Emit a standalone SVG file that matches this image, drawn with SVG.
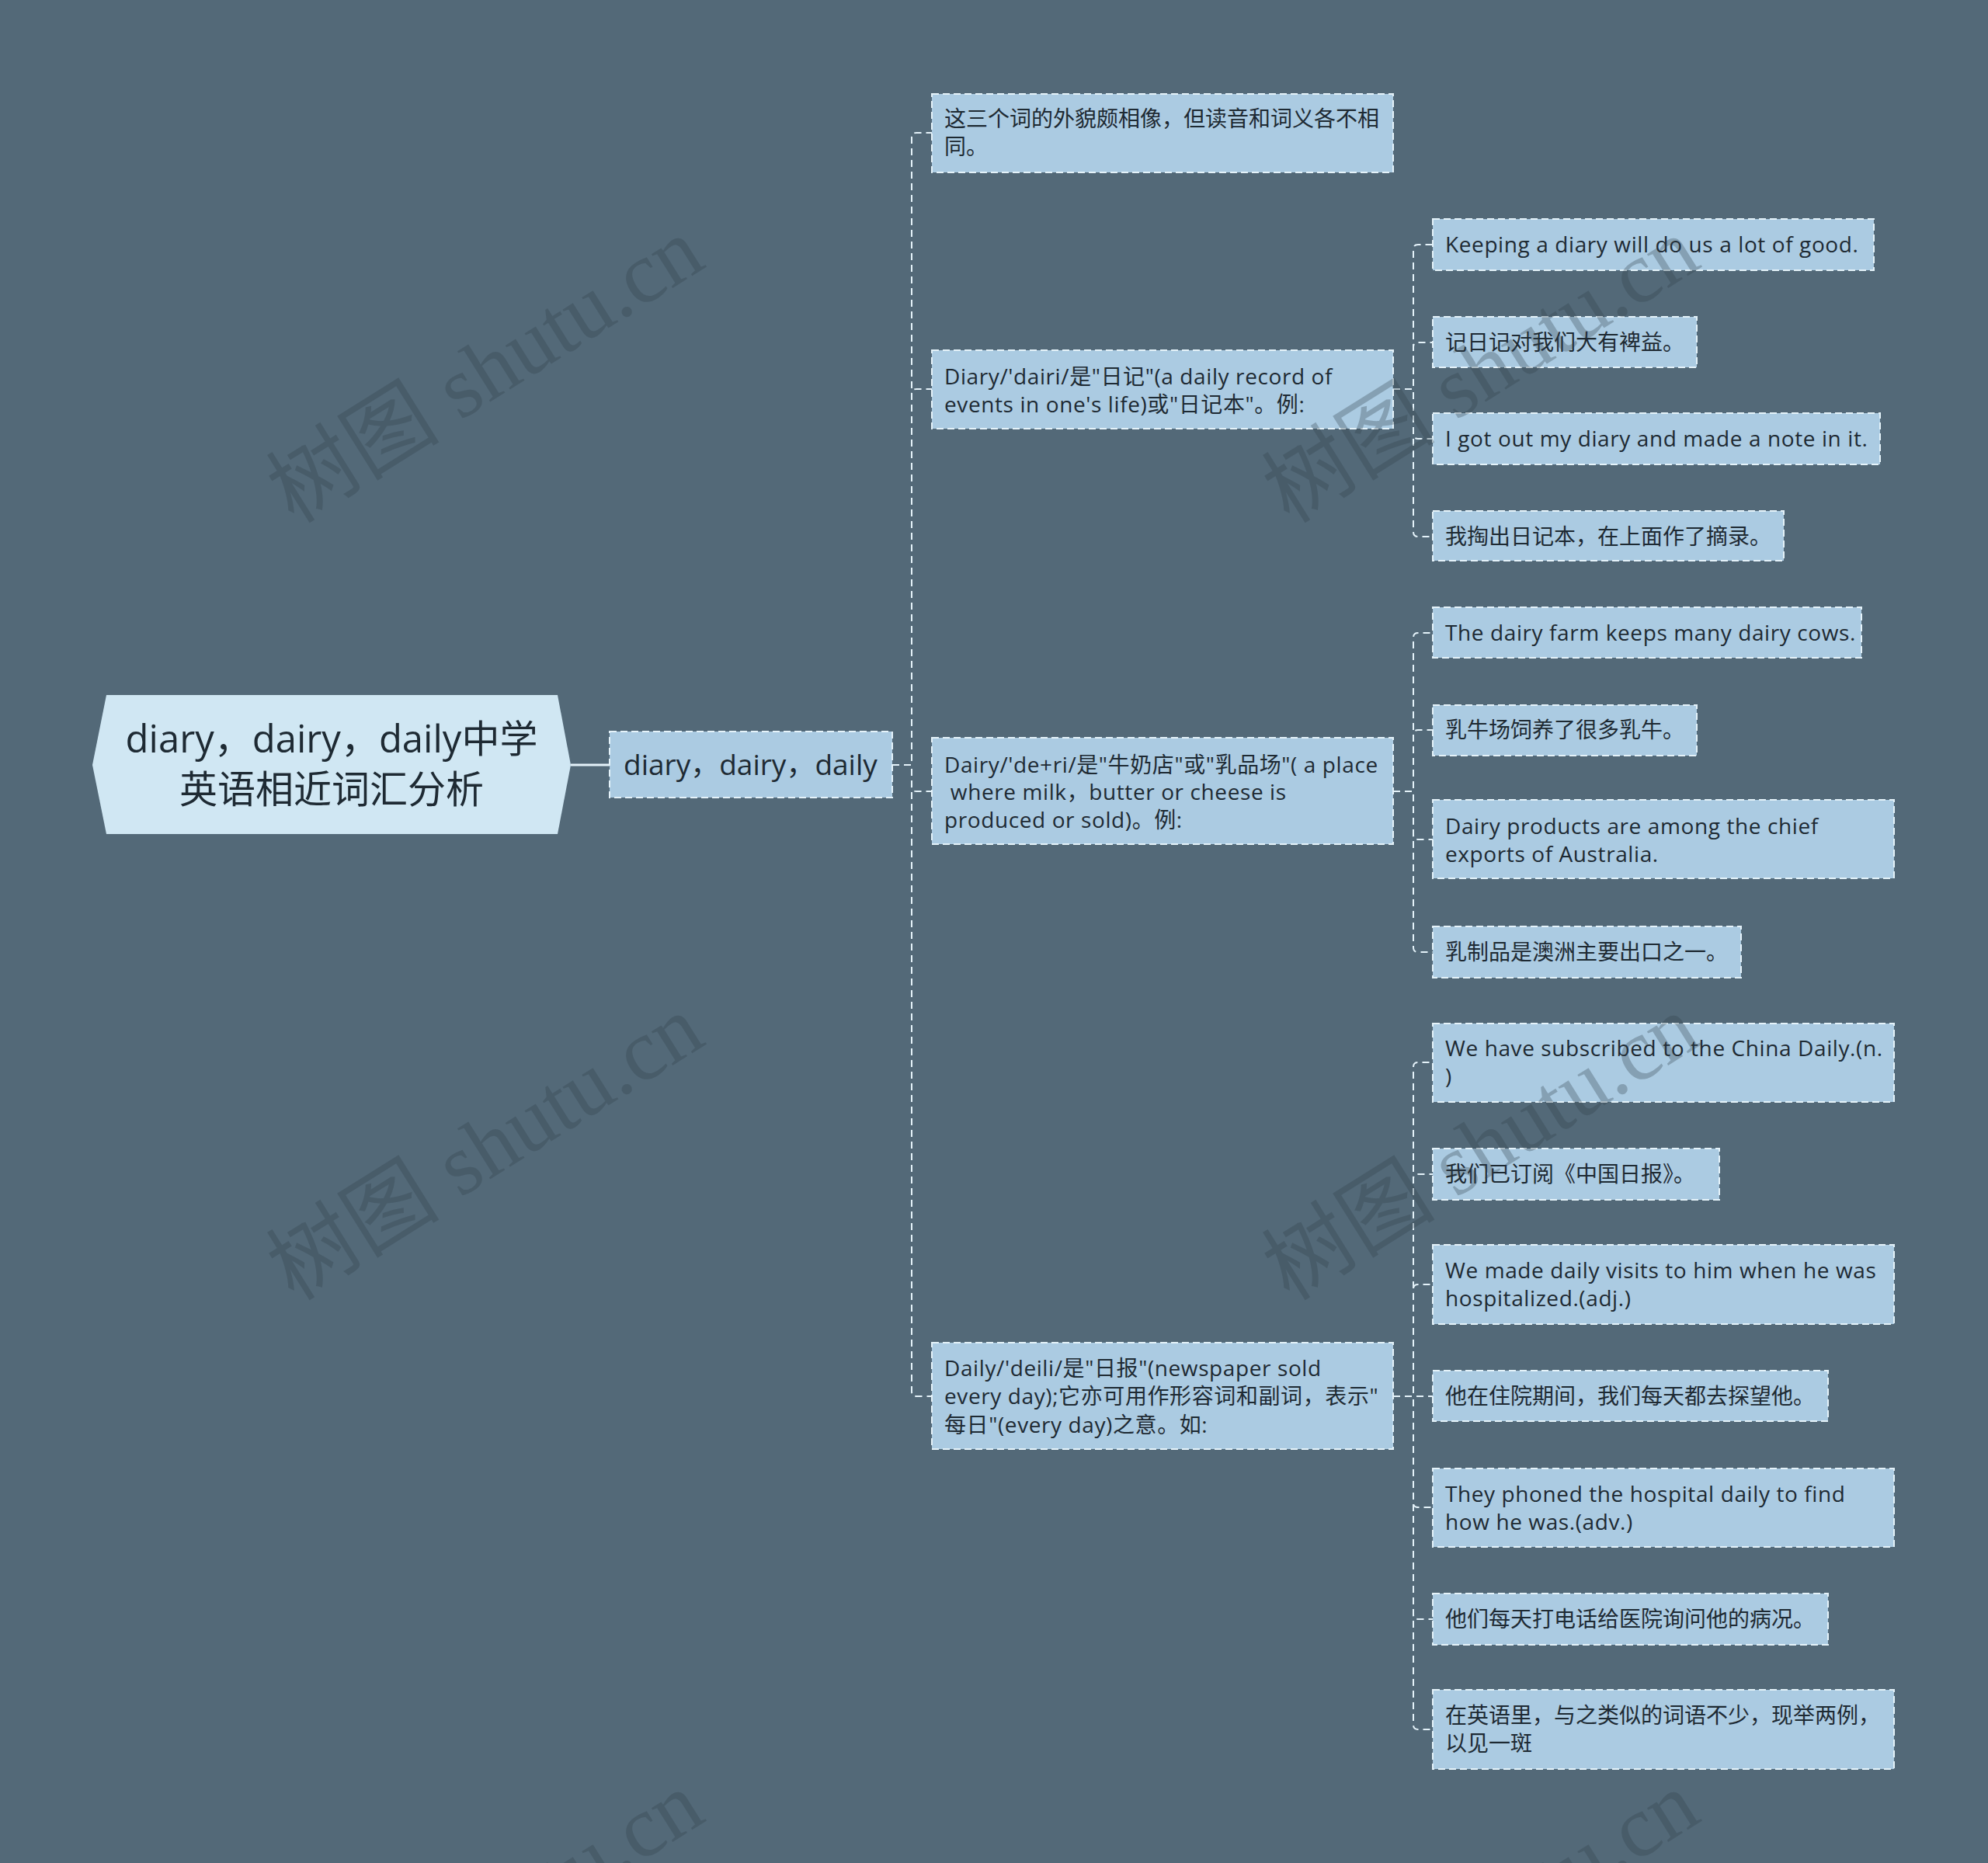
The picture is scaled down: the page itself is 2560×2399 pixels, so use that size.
<svg xmlns="http://www.w3.org/2000/svg" width="2560" height="2399" viewBox="0 0 2560 2399">
<defs>
<style>
.bg{fill:#536978}
.n{fill:#abcbe2;stroke:#e4f2f9;stroke-width:2;stroke-dasharray:9 5}
.root{fill:#d0e7f3}
.t{font-family:"Open Sans","Noto Sans CJK SC",sans-serif;fill:#1e2a33}
.t2{font-size:28px}
.t3{font-size:28px}
.en{letter-spacing:0.6px}
.c{fill:none;stroke:#e4f2f9;stroke-width:2;stroke-dasharray:9 6}
.wm{font-family:"Liberation Serif","Noto Sans CJK SC",serif;font-size:112px;fill:#2f3f4a;opacity:0.3}
</style>
</defs>
<rect class="bg" x="0" y="0" width="2560" height="2399"/>

<g id="connectors">
<line x1="735" y1="985" x2="785" y2="985" stroke="#e4f2f9" stroke-width="3"/>
<path class="c" d="M1149 985 H1174 V177 Q1174 171 1180 171 H1200"/>
<path class="c" d="M1149 985 H1174 V507 Q1174 501 1180 501 H1200"/>
<path class="c" d="M1149 985 H1174 V1013 Q1174 1019 1180 1019 H1200"/>
<path class="c" d="M1149 985 H1174 V1792 Q1174 1798 1180 1798 H1200"/>

<path class="c" d="M1794 501 H1820 V321 Q1820 315 1826 315 H1845"/>
<path class="c" d="M1794 501 H1820 V447 Q1820 441 1826 441 H1845"/>
<path class="c" d="M1794 501 H1820 V559 Q1820 565 1826 565 H1845"/>
<path class="c" d="M1794 501 H1820 V685 Q1820 691 1826 691 H1845"/>

<path class="c" d="M1794 1019 H1820 V821 Q1820 815 1826 815 H1845"/>
<path class="c" d="M1794 1019 H1820 V946 Q1820 940 1826 940 H1845"/>
<path class="c" d="M1794 1019 H1820 V1075 Q1820 1081 1826 1081 H1845"/>
<path class="c" d="M1794 1019 H1820 V1220 Q1820 1226 1826 1226 H1845"/>

<path class="c" d="M1794 1798 H1820 V1374 Q1820 1368 1826 1368 H1845"/>
<path class="c" d="M1794 1798 H1820 V1518 Q1820 1512 1826 1512 H1845"/>
<path class="c" d="M1794 1798 H1820 V1660 Q1820 1654 1826 1654 H1845"/>
<path class="c" d="M1794 1798 H1845"/>
<path class="c" d="M1794 1798 H1820 V1935 Q1820 1941 1826 1941 H1845"/>
<path class="c" d="M1794 1798 H1820 V2079 Q1820 2085 1826 2085 H1845"/>
<path class="c" d="M1794 1798 H1820 V2221 Q1820 2227 1826 2227 H1845"/>
</g>

<g id="root">
<polygon class="root" points="119,985 137,895 718,895 735,985 718,1074 137,1074"/>
<text class="t" font-size="49" text-anchor="middle" x="427" y="969">diary，dairy，daily中学</text>
<text class="t" font-size="49" text-anchor="middle" x="427" y="1034">英语相近词汇分析</text>
</g>

<g id="sub">
<rect class="n" x="785" y="942" width="364" height="85"/>
<text class="t" font-size="37" x="803" y="998">diary，dairy，daily</text>
</g>

<g id="n1">
<rect class="n" x="1200" y="121" width="594" height="101"/>
<text class="t t2" x="1216" y="163">这三个词的外貌颇相像，但读音和词义各不相</text>
<text class="t t2" x="1216" y="199">同。</text>
</g>
<g id="n2">
<rect class="n" x="1200" y="451" width="594" height="101"/>
<text class="t t2 en" x="1216" y="495">Diary/'dairi/是"日记"(a daily record of</text>
<text class="t t2 en" x="1216" y="531">events in one's life)或"日记本"。例:</text>
</g>
<g id="n3">
<rect class="n" x="1200" y="950" width="594" height="137"/>
<text class="t t2 en" x="1216" y="995">Dairy/'de+ri/是"牛奶店"或"乳品场"( a place</text>
<text class="t t2 en" x="1216" y="1030" xml:space="preserve"> where milk，butter or cheese is</text>
<text class="t t2 en" x="1216" y="1066">produced or sold)。例:</text>
</g>
<g id="n4">
<rect class="n" x="1200" y="1729" width="594" height="137"/>
<text class="t t2 en" x="1216" y="1772">Daily/'deili/是"日报"(newspaper sold</text>
<text class="t t2 en" x="1216" y="1808">every day);它亦可用作形容词和副词，表示"</text>
<text class="t t2 en" x="1216" y="1845">每日"(every day)之意。如:</text>
</g>

<g id="d1">
<rect class="n" x="1845" y="282" width="568" height="66"/>
<text class="t t3 en" x="1861" y="325">Keeping a diary will do us a lot of good.</text>
</g>
<g id="d2">
<rect class="n" x="1845" y="408" width="340" height="65"/>
<text class="t t3" x="1861" y="451">记日记对我们大有裨益。</text>
</g>
<g id="d3">
<rect class="n" x="1845" y="532" width="576" height="66"/>
<text class="t t3 en" x="1861" y="575">I got out my diary and made a note in it.</text>
</g>
<g id="d4">
<rect class="n" x="1845" y="658" width="452" height="64"/>
<text class="t t3" x="1861" y="701">我掏出日记本，在上面作了摘录。</text>
</g>

<g id="e1">
<rect class="n" x="1845" y="782" width="552" height="65"/>
<text class="t t3 en" x="1861" y="825">The dairy farm keeps many dairy cows.</text>
</g>
<g id="e2">
<rect class="n" x="1845" y="908" width="340" height="65"/>
<text class="t t3" x="1861" y="950">乳牛场饲养了很多乳牛。</text>
</g>
<g id="e3">
<rect class="n" x="1845" y="1030" width="594" height="101"/>
<text class="t t3 en" x="1861" y="1074">Dairy products are among the chief</text>
<text class="t t3 en" x="1861" y="1110">exports of Australia.</text>
</g>
<g id="e4">
<rect class="n" x="1845" y="1193" width="397" height="66"/>
<text class="t t3" x="1861" y="1236">乳制品是澳洲主要出口之一。</text>
</g>

<g id="f1">
<rect class="n" x="1845" y="1318" width="594" height="101"/>
<text class="t t3 en" x="1861" y="1360">We have subscribed to the China Daily.(n.</text>
<text class="t t3" x="1861" y="1396">)</text>
</g>
<g id="f2">
<rect class="n" x="1845" y="1479" width="369" height="66"/>
<text class="t t3" x="1861" y="1522">我们已订阅《中国日报》。</text>
</g>
<g id="f3">
<rect class="n" x="1845" y="1603" width="594" height="102"/>
<text class="t t3 en" x="1861" y="1646">We made daily visits to him when he was</text>
<text class="t t3 en" x="1861" y="1682">hospitalized.(adj.)</text>
</g>
<g id="f4">
<rect class="n" x="1845" y="1765" width="509" height="65"/>
<text class="t t3" x="1861" y="1808">他在住院期间，我们每天都去探望他。</text>
</g>
<g id="f5">
<rect class="n" x="1845" y="1891" width="594" height="101"/>
<text class="t t3 en" x="1861" y="1934">They phoned the hospital daily to find</text>
<text class="t t3 en" x="1861" y="1970">how he was.(adv.)</text>
</g>
<g id="f6">
<rect class="n" x="1845" y="2052" width="509" height="66"/>
<text class="t t3" x="1861" y="2095">他们每天打电话给医院询问他的病况。</text>
</g>
<g id="f7">
<rect class="n" x="1845" y="2176" width="594" height="102"/>
<text class="t t3" x="1861" y="2219">在英语里，与之类似的词语不少，现举两例，</text>
<text class="t t3" x="1861" y="2255">以见一斑</text>
</g>

<g id="watermarks">
<text class="wm" text-anchor="middle" transform="translate(645,509) rotate(-32)">树图 shutu.cn</text>
<text class="wm" text-anchor="middle" transform="translate(1927,509) rotate(-32)">树图 shutu.cn</text>
<text class="wm" text-anchor="middle" transform="translate(645,1510) rotate(-32)">树图 shutu.cn</text>
<text class="wm" text-anchor="middle" transform="translate(1927,1510) rotate(-32)">树图 shutu.cn</text>
<text class="wm" text-anchor="middle" transform="translate(645,2510) rotate(-32)">树图 shutu.cn</text>
<text class="wm" text-anchor="middle" transform="translate(1927,2510) rotate(-32)">树图 shutu.cn</text>
</g>
</svg>
